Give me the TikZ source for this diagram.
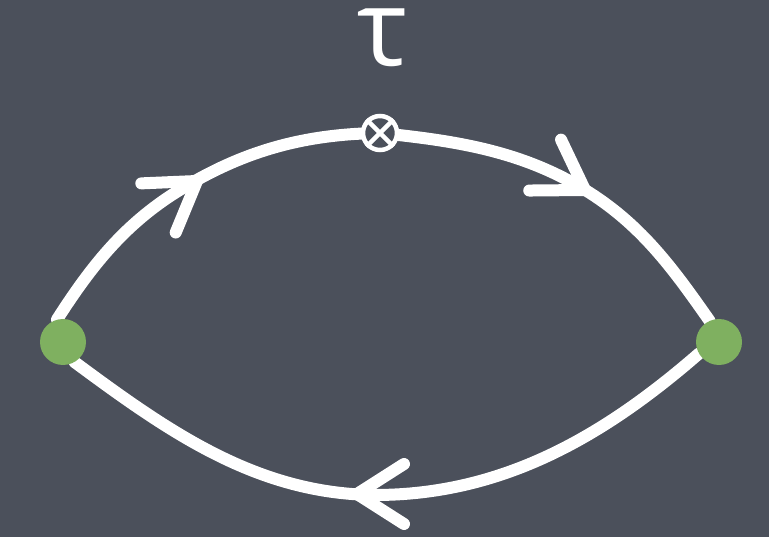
\documentclass[tikz,border=0pt]{standalone}
\usepackage{fontspec}
\newfontfamily\taufont{Open Sans}
\pgfdeclarelayer{boardlayer}
\pgfdeclarelayer{lineslayer}
\pgfsetlayers{boardlayer,lineslayer,main}
\definecolor{board}{RGB}{75,80,91}
\definecolor{chalkgreen}{RGB}{127,176,96}
\tikzset{
  chalk/.style={draw=white, line width=12pt, line cap=round, line join=round},
  dot/.style={circle, fill=chalkgreen, minimum size=46pt, inner sep=0pt},
  vertex/.style={circle, draw=white, fill=board, line width=4.5pt, minimum size=34pt, inner sep=0pt},
  chevron/.pic={\draw[chalk] (-47,30) -- (0,0) -- (-47,-30);},
  label/.style={text=white, font=\taufont\fontsize{106}{106}\selectfont, inner sep=0pt}
}
\begin{document}
\begin{tikzpicture}[x=1pt, y=-1pt]
\useasboundingbox (0,0) rectangle (769,537);
\begin{pgfonlayer}{boardlayer}
  \fill[board] (0,0) rectangle (769,537);
\end{pgfonlayer}
% nodes
\node[dot] (L) at (63,342) {};
\node[dot] (R) at (719,342) {};
\node[vertex] (X) at (380,133) {};
\draw[white, line width=4.5pt] (X.45) -- (X.225) (X.135) -- (X.315);
\node[label, anchor=base] (T) at (383,66) {τ};
\coordinate (ul) at (183,188);
\coordinate (ur) at (590,193);
\coordinate (bt) at (375,495);
% connectors
\begin{pgfonlayer}{lineslayer}
  \draw[chalk] (L.105) .. controls (92,265) and (126,222) .. (ul)
               .. controls (246,150) and (306,134) .. (X.center);
  \draw[chalk] (X.center) .. controls (457,141) and (524,151) .. (ur)
               .. controls (643,227) and (674,270) .. (R.114);
  \draw[chalk] (R.210) .. controls (603,437) and (502,495) .. (bt)
               .. controls (257,494) and (169,432) .. (L.-60);
  \pic[rotate=35] at (197,181) {chevron};
  \pic[rotate=-32] at (585,190) {chevron};
  \pic[rotate=180] at (357,494) {chevron};
\end{pgfonlayer}
\end{tikzpicture}
\end{document}
